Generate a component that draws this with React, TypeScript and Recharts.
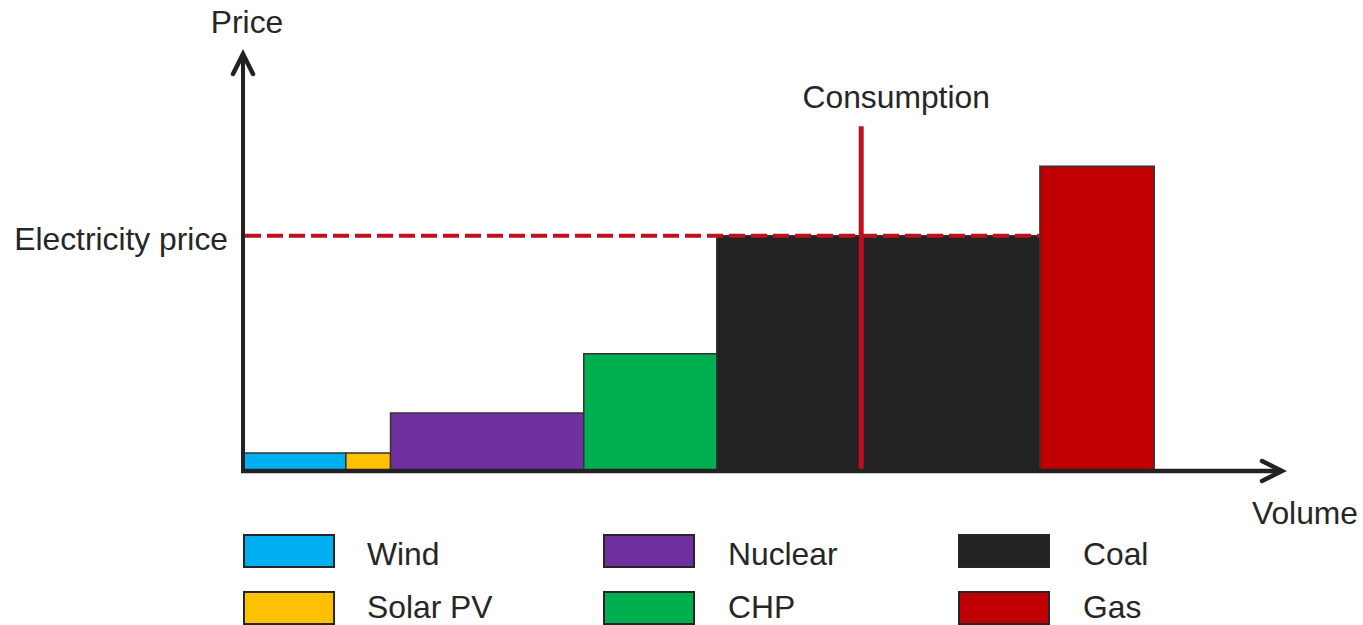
import React from 'react';
import { ComposedChart, XAxis, YAxis, ReferenceArea, ReferenceLine } from 'recharts';

// Merit-order data: cumulative volume boundaries and marginal price for each technology
const sources = ['Wind', 'Solar PV', 'Nuclear', 'CHP', 'Coal', 'Gas'];
const volumeStart = [0, 9.9, 14.2, 32.8, 45.6, 76.7];
const volumeEnd = [9.9, 14.2, 32.8, 45.6, 76.7, 87.7];
const prices = [4.3, 4.3, 13.9, 28.1, 56.4, 73.1];
const colors = ['#00B0F0', '#FFC000', '#7030A0', '#00B050', '#222222', '#C00000'];

const electricityPrice = 56.4;
const consumptionVolume = 59.5;
const consumptionTop = 82.7;
const axisMax = 100;

// Legend layout order (column-major, 3 columns x 2 rows)
const legendOrder = [0, 1, 2, 3, 4, 5];

const FONT = '"Liberation Sans", Arial, sans-serif';
const FS = 31.8;
const TEXT = '#262626';
const RED_LINE = '#C0101E';

const YAxisShape = (p: any) => {
  const { x1, y1, y2 } = p;
  const top = Math.min(y1, y2);
  const bottom = Math.max(y1, y2);
  const x = x1;
  return (
    <g>
      <line x1={x} y1={bottom + 2} x2={x} y2={top + 2} stroke="#222" strokeWidth={4} />
      <polyline
        points={`${x - 10},${top + 20} ${x},${top} ${x + 10},${top + 20}`}
        fill="none"
        stroke="#222"
        strokeWidth={4.5}
        strokeLinecap="round"
        strokeLinejoin="miter"
      />
      <text x={x + 4} y={top - 21} textAnchor="middle" fontSize={FS} fontFamily={FONT} fill={TEXT}>
        Price
      </text>
    </g>
  );
};

const XAxisShape = (p: any) => {
  const { x1, y1, x2 } = p;
  const left = Math.min(x1, x2);
  const right = Math.max(x1, x2);
  const y = y1;
  return (
    <g>
      <line x1={left - 2} y1={y} x2={right - 2} y2={y} stroke="#222" strokeWidth={4.5} />
      <polyline
        points={`${right - 20},${y - 10} ${right},${y} ${right - 20},${y + 10}`}
        fill="none"
        stroke="#222"
        strokeWidth={4.5}
        strokeLinecap="round"
        strokeLinejoin="miter"
      />
      <text x={right + 23} y={y + 53} textAnchor="middle" fontSize={FS} fontFamily={FONT} fill={TEXT}>
        Volume
      </text>
    </g>
  );
};

const PriceLineShape = (p: any) => {
  const { x1, y1, x2 } = p;
  const left = Math.min(x1, x2);
  const right = Math.max(x1, x2);
  return (
    <g>
      <line
        x1={left + 2}
        y1={y1}
        x2={right}
        y2={y1}
        stroke={RED_LINE}
        strokeWidth={4}
        strokeDasharray="16 6"
      />
      <text x={left - 15} y={y1 + 14} textAnchor="end" fontSize={FS} fontFamily={FONT} fill={TEXT}>
        Electricity price
      </text>
    </g>
  );
};

const ConsumptionShape = (p: any) => {
  const { x1, y1, y2 } = p;
  const top = Math.min(y1, y2);
  const bottom = Math.max(y1, y2);
  return (
    <g>
      <line x1={x1} y1={bottom - 2} x2={x1} y2={top} stroke={RED_LINE} strokeWidth={5} />
      <text x={x1 + 35} y={top - 18} textAnchor="middle" fontSize={FS} fontFamily={FONT} fill={TEXT}>
        Consumption
      </text>
    </g>
  );
};

const legendColX = [243, 603, 958];
const legendTextX = [367, 728, 1083];
const legendRowY = [534, 591];
const legendTextTop = [541, 594];

export default function App() {
  return (
    <div style={{ position: 'absolute', left: 0, top: 0, width: 1363, height: 625, background: '#fff' }}>
      <ComposedChart
        width={1363}
        height={625}
        data={[{ v: 0 }]}
        margin={{ top: 54, right: 81, bottom: 154, left: 243 }}
      >
        <XAxis type="number" dataKey="v" domain={[0, axisMax]} hide allowDataOverflow />
        <YAxis type="number" domain={[0, axisMax]} hide allowDataOverflow />
        {sources.map((s, i) => (
          <ReferenceArea
            key={s}
            x1={volumeStart[i]}
            x2={volumeEnd[i]}
            y1={0}
            y2={prices[i]}
            fill={colors[i]}
            fillOpacity={1}
            stroke="#333"
            strokeWidth={1.5}
            ifOverflow="visible"
          />
        ))}
        <ReferenceLine
          segment={[
            { x: 0, y: electricityPrice },
            { x: volumeEnd[4], y: electricityPrice },
          ]}
          shape={PriceLineShape}
          ifOverflow="visible"
        />
        <ReferenceLine
          segment={[
            { x: consumptionVolume, y: 0 },
            { x: consumptionVolume, y: consumptionTop },
          ]}
          shape={ConsumptionShape}
          ifOverflow="visible"
        />
        <ReferenceLine
          segment={[
            { x: 0, y: 0 },
            { x: axisMax, y: 0 },
          ]}
          shape={XAxisShape}
          ifOverflow="visible"
        />
        <ReferenceLine
          segment={[
            { x: 0, y: 0 },
            { x: 0, y: axisMax },
          ]}
          shape={YAxisShape}
          ifOverflow="visible"
        />
      </ComposedChart>
      {legendOrder.map((idx, k) => {
        const col = Math.floor(k / 2);
        const row = k % 2;
        return (
          <React.Fragment key={sources[idx]}>
            <div
              style={{
                position: 'absolute',
                left: legendColX[col],
                top: legendRowY[row],
                width: 92,
                height: 34,
                boxSizing: 'border-box',
                background: colors[idx],
                border: '2.5px solid #262626',
              }}
            />
            <div
              style={{
                position: 'absolute',
                left: legendTextX[col],
                top: legendTextTop[row],
                height: 26,
                lineHeight: '26px',
                fontSize: FS,
                fontFamily: FONT,
                color: TEXT,
                whiteSpace: 'nowrap',
              }}
            >
              {sources[idx]}
            </div>
          </React.Fragment>
        );
      })}
    </div>
  );
}
